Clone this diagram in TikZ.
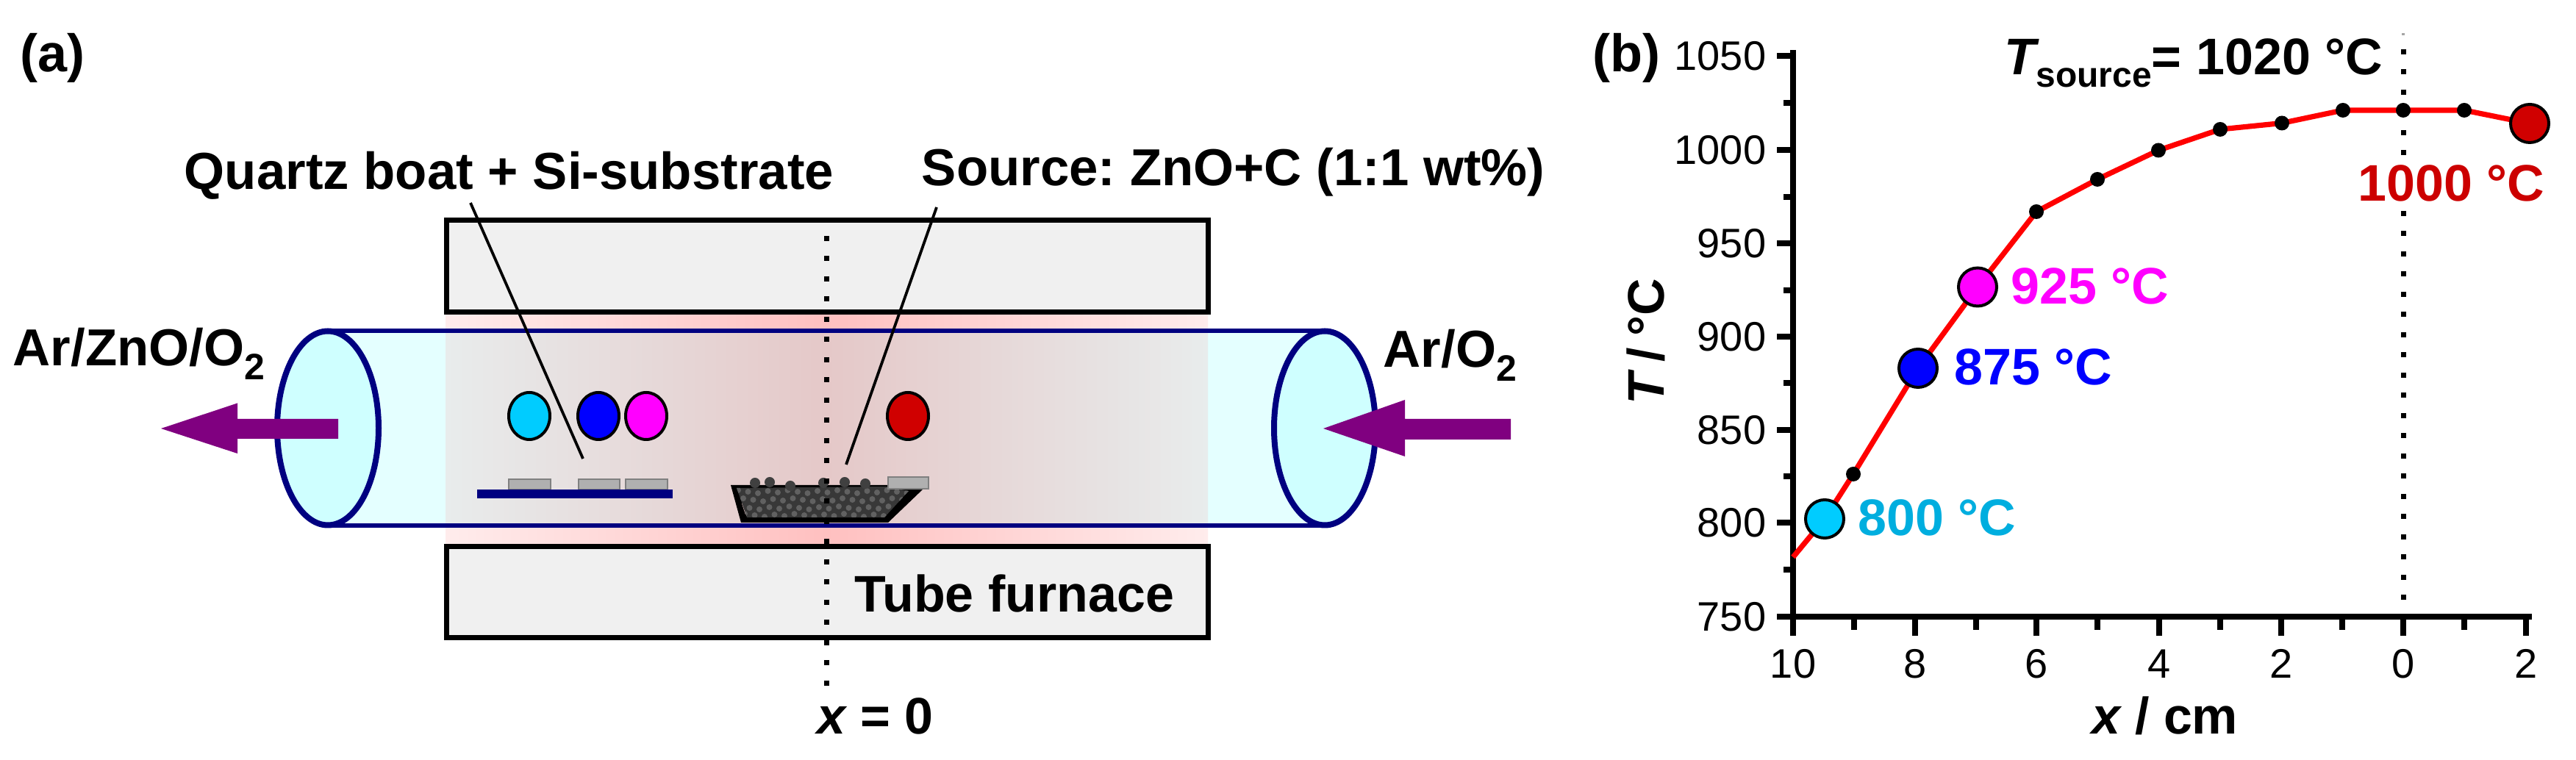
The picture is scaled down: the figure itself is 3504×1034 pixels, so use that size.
\documentclass[tikz,border=0pt]{standalone}
\usepackage{fontspec}
\setmainfont{Liberation Sans}
\frenchspacing
\definecolor{navyt}{RGB}{0,0,128}
\definecolor{purp}{RGB}{128,0,128}
\definecolor{cy}{RGB}{0,204,255}
\definecolor{cylab}{RGB}{0,174,223}
\definecolor{mag}{RGB}{255,0,255}
\definecolor{blu}{RGB}{0,0,255}
\definecolor{rd}{RGB}{208,0,0}
\definecolor{rdlab}{RGB}{204,0,0}
\definecolor{subg}{RGB}{176,176,176}
\definecolor{subd}{RGB}{128,128,128}
\definecolor{tubec}{RGB}{228,255,255}
\definecolor{endc}{RGB}{207,255,255}
\definecolor{edgein}{RGB}{232,236,236}
\definecolor{midin}{RGB}{229,200,200}
\definecolor{edgeout}{RGB}{255,236,236}
\definecolor{midout}{RGB}{255,192,192}
\newcommand{\lab}{\fontsize{17.5}{20}\selectfont\bfseries}
\newcommand{\labw}{\fontsize{17.7}{20}\selectfont\bfseries}
\newcommand{\panel}{\fontsize{18}{20}\selectfont\bfseries}
\newcommand{\tick}{\fontsize{14}{16}\selectfont}
\newcommand{\subtwo}[1]{\raisebox{-4.7pt}{\fontsize{12.5}{14}\selectfont #1}}
\tikzset{
  txt/.style={inner sep=0pt,anchor=base west,font=\lab},
  txtw/.style={inner sep=0pt,anchor=base west,font=\labw},
  furn/.style={draw=black,fill=black!6,line width=1.75pt},
  tubeline/.style={draw=navyt,line width=1.6pt},
  tubeend/.style={draw=navyt,fill=endc,line width=2pt},
  mk/.style={draw=black,line width=1pt},
  lead/.style={draw=black,line width=0.95pt},
  dotv/.style={draw=black,line width=1.75pt,dash pattern=on 1.75pt off 5.125pt},
  flow/.style={fill=purp,draw=none},
  sub/.style={fill=subg,draw=subd,line width=0.5pt},
  axis/.style={draw=black,line width=2.1pt},
  ticklab/.style={inner sep=0pt,font=\tick},
  dot/.style={fill=black,draw=none},
}
\begin{document}
\begin{tikzpicture}[x=0.25pt,y=-0.25pt]
\useasboundingbox[fill=white] (0,0) rectangle (3504,1034);
% --- panel (a): heated zone and tube
\shade[left color=edgeout,right color=edgeout,middle color=midout] (606,425) rectangle (1643,745);
\fill[tubec] (446,450) rectangle (1802,715);
\shade[left color=edgein,right color=edgein,middle color=midin] (606,450) rectangle (1643,715);
\draw[tubeline] (446,450) -- (1802,450);
\draw[tubeline] (446,715) -- (1802,715);
\draw[tubeend] (446,582.5) ellipse [x radius=69,y radius=132];
\draw[tubeend] (1802,582.5) ellipse [x radius=69,y radius=132];
% furnace
\draw[furn] (607,300) rectangle (1643,425);
\draw[furn] (607,744) rectangle (1643,868);
% temperature markers in tube
\draw[mk,fill=cy]  (720,566)  ellipse [x radius=28,y radius=32];
\draw[mk,fill=blu] (814,566)  ellipse [x radius=28,y radius=32];
\draw[mk,fill=mag] (879,566)  ellipse [x radius=28,y radius=32];
\draw[mk,fill=rd]  (1235,566) ellipse [x radius=28,y radius=32];
% quartz boat with substrates
\draw[sub] (692,652) rectangle (749,666);
\draw[sub] (787,652) rectangle (843,666);
\draw[sub] (851,652) rectangle (908,666);
\fill[navyt] (649,666) rectangle (915,678);
% source boat
\fill[black] (994,660) -- (1008,711) -- (1208,711) -- (1255,666) -- (1208,660) -- cycle;
\fill[white!85!red] (1009,685) -- (1012,684) -- (1017,700) -- (1014,700) -- cycle;
\fill[white!85!red] (1211,684) -- (1218,680) -- (1209,692) -- cycle;
\begin{scope}
\clip (1002,664) -- (1016,704) -- (1203,704) -- (1236,668) -- (1205,662) -- cycle;
\fill[black!78] (990,655) rectangle (1260,715);
\foreach \yy/\off in {669/0,680/7,691/2,701/9}
  \foreach \k in {0,...,18}
    \fill[black!62] ({1004+\off+\k*13.5},{\yy+mod(\k*7,5)-2}) circle [radius=4];
\end{scope}
\foreach \xx/\yy in {1027/657,1047/656,1075/661,1120/657,1149/656,1177/658}
  \fill[black!75] (\xx,\yy) circle [radius=7];
\draw[sub] (1208,649) rectangle (1263,665);
% centre line
\coordinate (cla) at (1124.5,321);
\coordinate (clb) at (1124.5,933);
\draw[dotv] (cla) -- (clb);
% leaders
\coordinate (qa) at (640,276);
\coordinate (qb) at (793,624);
\coordinate (sa) at (1274,282);
\coordinate (sb) at (1151,632);
\draw[lead] (qa) -- (qb);
\draw[lead] (sa) -- (sb);
% gas flow arrows
\fill[flow] (219,583) -- (323,548.5) -- (323,570) -- (460,570) -- (460,597) -- (323,597) -- (323,617) -- cycle;
\fill[flow] (1800,583) -- (1911,544) -- (1911,570) -- (2055,570) -- (2055,598) -- (1911,598) -- (1911,621) -- cycle;
% labels (a)
\node[txt,font=\panel] (pa) at (27,98) {(a)};
\node[txtw] (lq) at (250,258) {Quartz boat + Si-substrate};
\node[txtw] (ls) at (1253,253) {Source: ZnO+C (1:1 wt\%)};
\node[txtw] (lout) at (17,498) {Ar/ZnO/O\subtwo{2}};
\node[txtw] (lin) at (1881,500) {Ar/O\subtwo{2}};
\node[txt] (lf) at (1162,833) {Tube furnace};
\node[txt] (lx) at (1111,999) {\itshape x\upshape{} = 0};
% --- panel (b)
\node[txt,font=\panel] (pb) at (2166,98) {(b)};
\coordinate (da) at (3269,67);
\coordinate (db) at (3269,838);
\draw[black!35,line width=1pt] (3269,45) -- (3269,48);
\draw[dotv] (da) -- (db);
% axes
\coordinate (ax0) at (2439,839);
\coordinate (axt) at (2439,72);
\coordinate (axr) at (3440,839);
\draw[axis,line cap=rect] (axt) -- (ax0) -- (axr);
\foreach \yy/\t in {76/1050,204/1000,331/950,458/900,585/850,711/800,839/750}{
  \draw[axis] (2417,\yy) -- (2439,\yy);
  \node[ticklab,anchor=east] at (2403,\yy) {\t};
}
\foreach \yy in {140,268,395,521,648,775}
  \draw[axis] (2426,\yy) -- (2439,\yy);
\foreach \xx/\t in {2439/10,2605/8,2770/6,2937/4,3103/2,3269/0,3436/2}{
  \draw[axis] (\xx,839) -- (\xx,865);
  \node[ticklab,anchor=base] at (\xx,923) {\t};
}
\foreach \xx in {2522,2688,2853,3020,3186,3352}
  \draw[axis] (\xx,839) -- (\xx,857);
% curve
\coordinate (c0) at (2439,758);
\coordinate (c1) at (2482,706);
\coordinate (c2) at (2521,645);
\coordinate (c3) at (2609,501);
\coordinate (c4) at (2690,390.5);
\coordinate (c5) at (2770,288);
\coordinate (c6) at (2853,244);
\coordinate (c7) at (2936,204.5);
\coordinate (c8) at (3020,176);
\coordinate (c9) at (3104,167.5);
\coordinate (c10) at (3187,150);
\coordinate (c11) at (3269,150);
\coordinate (c12) at (3352,150);
\coordinate (c13) at (3441,168);
\draw[red,line width=1.8pt,line join=round] (c0) -- (c1) -- (c2) -- (c3) -- (c4) -- (c5) -- (c6) -- (c7) -- (c8) -- (c9) -- (c10) -- (c11) -- (c12) -- (c13);
\foreach \p in {c2,c5,c6,c7,c8,c9,c10,c11,c12}
  \fill[dot] (\p) circle [radius=10];
\draw[mk,fill=cy]  (c1) circle [radius=26];
\draw[mk,fill=blu] (c3) circle [radius=26];
\draw[mk,fill=mag] (c4) circle [radius=26];
\draw[mk,fill=rd]  (c13) circle [radius=26];
% plot labels
\node[txt,text=cylab] (l800) at (2527,729) {800 °C};
\node[txt,text=blu] (l875) at (2658,524) {875 °C};
\node[txt,text=mag] (l925) at (2735,414) {925 °C};
\node[txt,text=rdlab,fill=white,inner sep=1pt] (l1000) at (3203,274) {1000 °C};
\node[txt] (lsrc) at (2726,102) {\itshape T\upshape\raisebox{-4.2pt}{\fontsize{12}{14}\selectfont source}= 1020 °C};
\node[txt,rotate=90] (ly) at (2263,551) {\itshape T\upshape\hspace{0.22em}/\hspace{0.22em}°C};
\node[txt] (lxx) at (2845,999) {\itshape x\upshape{} / cm};
\end{tikzpicture}
\end{document}
